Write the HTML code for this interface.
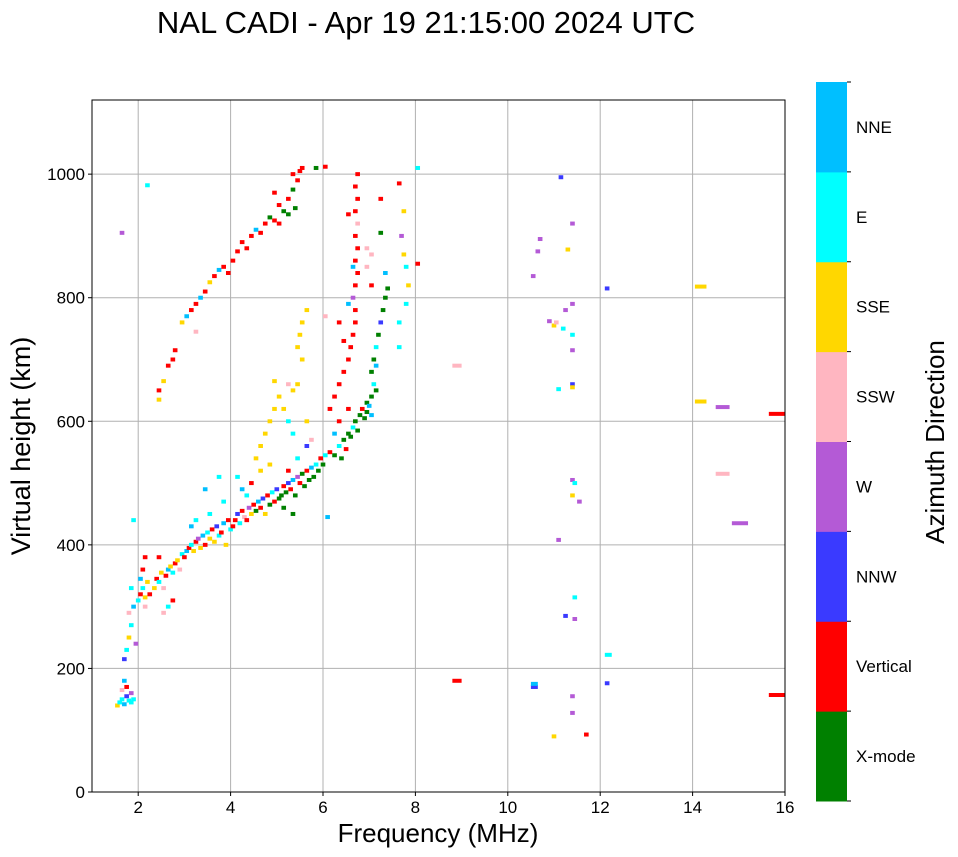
<!DOCTYPE html>
<html><head><meta charset="utf-8">
<style>
html,body{margin:0;padding:0;background:#fff;}
svg{display:block;font-family:"Liberation Sans",sans-serif;}
</style></head>
<body>
<svg id="chart" width="958" height="857" viewBox="0 0 958 857"></svg>
<script>
const xTicks=[2,4,6,8,10,12,14,16];
const yTicks=[0,200,400,600,800,1000];
const dirNames=["X-mode","Vertical","NNW","W","SSW","SSE","E","NNE"];
const dirColors=["#008000","#ff0000","#3a3aff","#b45ad6","#ffb6c1","#ffd700","#00ffff","#00bfff"];
const pts=["1.5,140,5","1.55,145,6","1.6,150,6","1.65,142,7","1.7,155,2","1.75,148,6","1.8,160,3","1.7,170,1","1.6,165,4","1.8,145,6","1.65,180,7","1.85,150,6",
"1.65,215,2","1.7,230,6","1.75,250,5","1.8,270,6","1.75,290,4","1.85,300,7","1.9,240,3","1.95,310,6","2.0,320,1","2.05,330,6","2.1,315,5","2.0,345,7","2.05,360,1","2.1,380,1","2.1,300,4","2.15,340,5","1.8,330,6","1.85,440,6","1.6,905,3","2.15,982,6",
"2.2,320,1","2.3,330,5","2.35,345,1","2.4,340,6","2.45,355,5","2.5,330,4","2.55,350,1","2.6,360,7","2.65,365,5","2.7,355,6","2.75,370,1","2.8,375,5","2.85,360,4","2.9,385,6","2.95,380,1","3.0,390,7","2.6,300,6","2.7,310,1","2.4,380,1","2.5,290,4",
"3.05,395,1","3.1,400,6","3.15,390,5","3.2,405,1","3.25,410,3","3.3,395,5","3.35,415,7","3.4,400,1","3.45,420,6","3.5,410,5","3.55,425,1","3.6,405,5","3.65,430,2","3.7,415,6","3.75,420,1","3.8,435,7","3.85,400,5","3.9,440,1","3.95,425,6","4.0,430,1","3.2,440,6","3.5,450,6","3.4,490,7","3.8,470,6","3.7,510,6","3.1,430,7",
"4.05,440,1","4.1,450,2","4.15,435,6","4.2,455,1","4.25,445,4","4.3,440,1","4.35,460,3","4.4,450,5","4.45,465,1","4.5,455,0","4.55,470,7","4.6,460,1","4.65,475,2","4.7,450,5","4.75,480,1","4.8,465,0","4.85,485,6","4.9,470,1","4.95,490,2","5.0,475,0","4.1,510,6","4.4,500,1","4.6,520,5","4.3,480,6","4.2,490,7","4.8,530,5","4.5,540,5",
"5.05,480,0","5.1,495,1","5.15,485,0","5.2,500,2","5.25,490,1","5.3,505,7","5.35,480,0","5.4,510,3","5.45,500,1","5.5,515,0","5.55,495,0","5.6,520,1","5.65,505,0","5.7,525,7","5.75,510,0","5.8,530,6","5.85,520,0","5.9,540,1","5.95,530,0","6.0,545,6","5.2,520,1","5.4,540,6","5.6,560,2","5.3,450,0","5.1,460,0","6.05,445,7",
"6.1,550,1","6.2,545,0","6.3,560,6","6.35,540,0","6.4,570,0","6.45,555,1","6.5,580,0","6.55,575,0","6.6,590,6","6.65,600,0","6.7,585,0","6.75,610,0","6.8,620,1","6.85,605,0","6.9,630,0","6.95,625,7","7.0,640,0","7.05,660,6","7.0,680,0","7.1,690,7","7.05,700,0","7.1,720,6","7.15,740,0","7.2,760,2","7.25,780,0","7.3,800,0","7.35,815,0","7.1,650,0","6.9,615,0","7.0,610,7",
"6.1,620,1","6.2,640,1","6.3,660,1","6.4,680,1","6.5,700,1","6.55,720,1","6.6,740,1","6.65,760,1","6.65,780,1","6.6,800,3","6.65,820,1","6.7,840,1","6.65,860,1","6.7,880,1","6.65,900,1","6.7,920,4","6.65,940,1","6.7,960,1","6.65,980,1","6.7,1000,1","6.5,935,1","6.9,880,4","6.9,850,4","7.0,870,4","7.2,905,0","7.2,960,1","7.6,985,1","7.7,940,5","7.65,900,3","7.7,870,5","7.75,850,6","7.8,820,5","7.75,790,6","7.6,760,6","7.6,720,6","7.0,820,1","7.3,840,7","6.6,850,7","6.4,730,1","6.5,620,1","6.3,600,1","6.2,580,7","6.0,770,4","6.5,790,7","6.3,760,1","8.0,1010,6","8.0,855,1",
"2.4,650,1","2.5,665,5","2.6,690,1","2.7,700,1","2.75,715,1","2.9,760,5","3.0,770,7","3.1,780,1","3.2,790,1","3.3,800,7","3.4,810,1","3.5,825,5","3.6,835,1","3.7,845,7","3.8,850,1","3.9,840,1","4.0,860,1","4.1,875,1","4.2,890,1","4.3,880,1","4.4,900,1","4.5,910,7","4.6,905,1","4.7,920,1","4.8,930,0","4.9,925,1","5.0,950,1","5.1,940,0","5.2,960,1","5.3,975,0","5.4,990,1","5.45,1005,1","5.5,1010,1","5.3,1000,1","5.35,945,0","5.2,935,0","5.0,920,1","4.9,970,1","5.8,1010,0","6.0,1012,1","2.4,635,5","3.2,745,4",
"4.6,560,5","4.7,580,5","4.8,600,5","4.9,620,5","5.0,640,5","5.1,620,5","5.2,600,6","5.3,650,5","5.4,660,5","5.5,700,5","5.45,740,5","5.5,760,5","5.6,780,5","4.9,665,5","5.3,580,6","5.6,600,5","5.7,570,4","5.4,720,5","5.2,660,4",
"8.8,690,4,0.2","8.8,180,1,0.2","10.5,170,2,0.15","10.5,175,7,0.15","10.95,90,5","11.1,995,2","10.65,895,3","10.6,875,3","10.5,835,3","10.85,762,3","10.95,755,5","11.0,760,4","11.15,750,6","11.35,740,6","11.2,780,3","11.35,790,3","11.35,920,3","11.25,878,5","11.05,652,6","11.35,660,2","11.35,655,5","11.35,505,3","11.4,500,6","11.35,480,5","11.5,470,3","11.05,408,3","11.2,285,2","11.4,280,3","11.4,315,6","11.35,155,3","11.35,128,3","11.65,93,1","12.1,222,6,0.15","12.1,176,2","12.1,815,2","14.05,818,5,0.25","14.05,632,5,0.25","14.5,623,3,0.3","14.5,515,4,0.3","14.85,435,3,0.35","15.65,612,1,0.35","15.65,157,1,0.35","11.35,715,3"];
const freqs=pts.map(s=>+s.split(",")[0]);
const heights=pts.map(s=>+s.split(",")[1]);
const dirs=pts.map(s=>+s.split(",")[2]);
const widthsMHz=pts.map(s=>{const p=s.split(",");return p.length>3?+p[3]:0.1;});

const svg=document.getElementById("chart");
const NS="http://www.w3.org/2000/svg";
const L=92,R=785,T=100,B=792;
const xMin=1,xMax=16,yMin=0,yMax=1120;
const xs=v=>L+(v-xMin)/(xMax-xMin)*(R-L);
const ys=v=>B-(v-yMin)/(yMax-yMin)*(B-T);
function mk(tag,attrs,parent){const e=document.createElementNS(NS,tag);for(const k in attrs)e.setAttribute(k,attrs[k]);(parent||svg).appendChild(e);return e;}

const defs=mk("defs",{});
const cp=mk("clipPath",{id:"plotclip"},defs);
mk("rect",{x:L,y:T,width:R-L,height:B-T},cp);

let t=mk("text",{x:426,y:33,"text-anchor":"middle","font-size":31,fill:"#000"});


t.textContent="NAL CADI - Apr 19 21:15:00 2024 UTC";

const grid=mk("g",{});


xTicks.forEach(v=>{const x=xs(v);mk("line",{x1:x,x2:x,y1:T,y2:B,stroke:"#b0b0b0","stroke-width":1},grid);});
yTicks.forEach(v=>{const y=ys(v);mk("line",{x1:L,x2:R,y1:y,y2:y,stroke:"#b0b0b0","stroke-width":1},grid);});

const marks=mk("g",{"clip-path":"url(#plotclip)"});


for(let i=0;i<freqs.length;i++){
  const w=xs(freqs[i]+widthsMHz[i])-xs(freqs[i]);
  const r=mk("rect",{x:xs(freqs[i]),y:ys(heights[i])-2,width:w,height:4,fill:dirColors[dirs[i]]},marks);
  
  
}

const frame=mk("rect",{x:L,y:T,width:R-L,height:B-T,fill:"none",stroke:"#000","stroke-width":1});



xTicks.forEach(v=>{const x=xs(v);mk("line",{x1:x,x2:x,y1:B,y2:B+4,stroke:"#000"});
 const tx=mk("text",{x:x,y:B+21,"text-anchor":"middle","font-size":17});
 
 
 tx.textContent=v;});
yTicks.forEach(v=>{const y=ys(v);mk("line",{x1:L-4,x2:L,y1:y,y2:y,stroke:"#000"});
 const tx=mk("text",{x:L-7,y:y+6,"text-anchor":"end","font-size":17});
 
 
 tx.textContent=v;});

t=mk("text",{x:438,y:842,"text-anchor":"middle","font-size":26});


t.textContent="Frequency (MHz)";
t=mk("text",{x:0,y:0,"text-anchor":"middle","font-size":27,transform:"translate(30,446) rotate(-90)"});


t.textContent="Virtual height (km)";

const cb=mk("g",{});


const cL=816,cR=847,cT=82,cB=801,seg=(cB-cT)/dirNames.length;
for(let i=0;i<dirNames.length;i++){
  const y0=cB-(i+1)*seg;
  const r=mk("rect",{x:cL,y:y0,width:cR-cL,height:seg+0.5,fill:dirColors[i]},cb);
  
  
  const tx=mk("text",{x:cR+9,y:y0+seg/2+6,"font-size":17},cb);
  
  
  tx.textContent=dirNames[i];
}
for(let i=0;i<=dirNames.length;i++){const y=cB-i*seg;mk("line",{x1:cR,x2:cR+4,y1:y,y2:y,stroke:"#000"},cb);}
t=mk("text",{x:0,y:0,"text-anchor":"middle","font-size":26,transform:"translate(944,442) rotate(-90)"});


t.textContent="Azimuth Direction";
</script>
</body></html>
